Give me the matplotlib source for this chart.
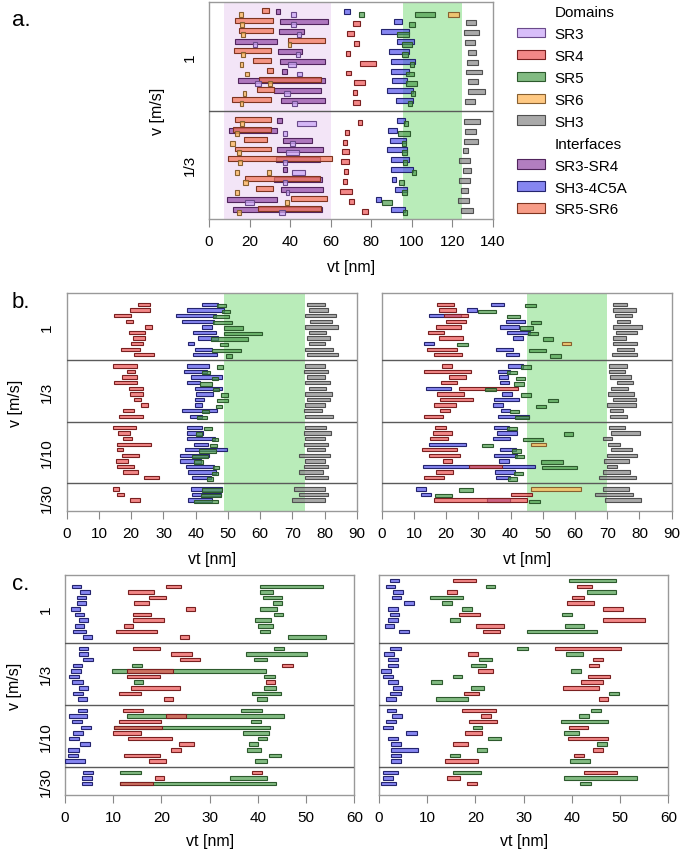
import matplotlib
matplotlib.use("Agg")
import matplotlib.pyplot as plt
from matplotlib.patches import Patch

plt.rcParams['font.family'] = ['Liberation Sans', 'DejaVu Sans']

# categories
DOMAINS = ["SR3", "SR4", "SR5", "SR6", "SH3"]
INTERFACES = ["SR3-SR4", "SH3-4C5A", "SR5-SR6"]

FACE = {
    "SR3": (0.80, 0.66, 0.97, 0.75),
    "SR4": (0.93, 0.33, 0.33, 0.70),
    "SR5": (0.30, 0.62, 0.30, 0.70),
    "SR6": (1.00, 0.72, 0.35, 0.75),
    "SH3": (0.55, 0.55, 0.55, 0.75),
    "SR3-SR4": (0.58, 0.30, 0.66, 0.72),
    "SH3-4C5A": (0.30, 0.30, 0.92, 0.68),
    "SR5-SR6": (0.96, 0.45, 0.33, 0.70),
}
EDGE = {
    "SR3": "#6a4a8a", "SR4": "#7a2020", "SR5": "#2d5a2d", "SR6": "#886030",
    "SH3": "#505050", "SR3-SR4": "#50245c", "SH3-4C5A": "#24246e", "SR5-SR6": "#7e3420",
}
ZORD = {"SH3": 3, "SR3-SR4": 3, "SR5-SR6": 4, "SH3-4C5A": 4,
        "SR4": 5, "SR5": 5, "SR3": 6, "SR6": 6}

# ---- panel a: rows of (category, start, end) per trial ----
a_v1 = [
    [("SR6", 15, 17), ("SR5-SR6", 26.3, 29.7), ("SR3-SR4", 33, 35), ("SR3", 40.4, 42.7), ("SH3-4C5A", 66.5, 69.6), ("SR5", 74, 76.7), ("SR5", 101.6, 111.7), ("SR6", 117.7, 123.3)],
    [("SR5-SR6", 12.8, 31.7), ("SR6", 15.4, 17.4), ("SR3-SR4", 35, 58.8), ("SR3", 40.5, 42.7), ("SR4", 71, 74.7), ("SH3-4C5A", 91.3, 95.2), ("SR5", 98.7, 101.6), ("SH3", 127, 132)],
    [("SR5-SR6", 14.8, 31.7), ("SR6", 15.9, 17.9), ("SR3-SR4", 34.5, 46.8), ("SR3", 43.5, 45.5), ("SR4", 68, 71.6), ("SH3-4C5A", 85, 98.7), ("SR5", 92.8, 98.7), ("SH3", 126, 133)],
    [("SR3-SR4", 12.6, 33.7), ("SR3", 21.5, 23.8), ("SR5-SR6", 38.9, 57.1), ("SR6", 38.8, 40.7), ("SR4", 71.8, 74.2), ("SH3-4C5A", 93, 101), ("SR5", 95.4, 100.3), ("SH3", 126.4, 131.5)],
    [("SR5-SR6", 12.2, 30.5), ("SR6", 15.9, 17.9), ("SR3-SR4", 34, 46), ("SR3", 43, 45), ("SR4", 67.6, 69.6), ("SH3-4C5A", 88.7, 98.5), ("SR5", 95, 98.4), ("SH3", 127.7, 132)],
    [("SR6", 15.1, 16.9), ("SR5-SR6", 21.8, 30.4), ("SR3-SR4", 35.1, 57.3), ("SR3", 39.2, 42.7), ("SR4", 74.5, 82.3), ("SH3-4C5A", 89.7, 101.6), ("SR5", 99, 101), ("SH3", 127.3, 132.7)],
    [("SR6", 17.9, 19.9), ("SR5-SR6", 28.7, 31.7), ("SR3-SR4", 36.1, 38.3), ("SR3", 43.5, 46.1), ("SR4", 67.8, 70.3), ("SH3-4C5A", 89.7, 98.7), ("SR5", 97, 101.2), ("SH3", 127, 134.5)],
    [("SR3-SR4", 14.3, 57.1), ("SR5-SR6", 24.5, 55.5), ("SR3", 22.8, 25.5), ("SR6", 29.2, 31.2), ("SR4", 71.8, 77.2), ("SH3-4C5A", 90.3, 97.7), ("SR5", 97, 102.6), ("SH3", 127.7, 132.7)],
    [("SR6", 16.6, 18.2), ("SR5-SR6", 23.5, 32), ("SR3-SR4", 32, 55.5), ("SR3", 36.8, 40), ("SR4", 71.3, 73.2), ("SH3-4C5A", 87.8, 100.7), ("SR5", 99.5, 101.5), ("SH3", 128, 136)],
    [("SR5-SR6", 11.3, 30.5), ("SR6", 15.1, 16.9), ("SR3-SR4", 35.6, 57.1), ("SR3", 41.2, 43.5), ("SR4", 71.3, 74.5), ("SH3-4C5A", 92.4, 100.7), ("SR5", 98.2, 100.3), ("SH3", 126.4, 131.2)],
]
a_v3 = [
    [("SR5-SR6", 12.8, 30.4), ("SR6", 15.1, 17.4), ("SR3-SR4", 33.7, 35.8), ("SR3", 43.2, 52.9), ("SR4", 73.6, 75.4), ("SH3-4C5A", 93, 96.7), ("SR5", 96, 98.4), ("SH3", 126, 133.8)],
    [("SR3-SR4", 9.7, 33.7), ("SR5-SR6", 12, 30.4), ("SR6", 13, 15), ("SR3", 36.6, 38.6), ("SR4", 67, 69.1), ("SH3-4C5A", 88.5, 93), ("SR5", 93.1, 99), ("SH3", 126.3, 132)],
    [("SR6", 10.5, 12.6), ("SR5-SR6", 17.2, 28.4), ("SR3-SR4", 36.5, 51), ("SR3", 40.2, 42.2), ("SR4", 66.2, 68.1), ("SH3-4C5A", 89.3, 97.4), ("SR5", 95.2, 97.4), ("SH3", 125.6, 132.8)],
    [("SR5-SR6", 12.6, 30.4), ("SR6", 14, 15.9), ("SR3-SR4", 33.7, 56.3), ("SR3", 37.9, 44.5), ("SR4", 65.7, 69.3), ("SH3-4C5A", 88, 97.7), ("SR5", 95.2, 97.7), ("SH3", 125.3, 127.9)],
    [("SR5-SR6", 9.4, 60.8), ("SR3-SR4", 33, 55), ("SR6", 14.4, 16.4), ("SR3", 36.3, 38.3), ("SR4", 65.2, 69.3), ("SH3-4C5A", 89.8, 98.5), ("SR5", 95.7, 97.7), ("SH3", 123.3, 128.6)],
    [("SR6", 13, 15), ("SR6", 28.6, 30.5), ("SR3-SR4", 36.3, 38.4), ("SR3", 41, 47.5), ("SR4", 66.7, 68.8), ("SH3-4C5A", 89.7, 100.7), ("SR5", 100.2, 102.3), ("SH3", 125.3, 129.4)],
    [("SR5-SR6", 17.9, 55), ("SR3-SR4", 32.2, 55.8), ("SR6", 17, 19), ("SR3", 36.6, 38.6), ("SR4", 66.2, 68.3), ("SH3-4C5A", 90.3, 92.4), ("SR5", 94, 96.2), ("SH3", 123.6, 128.6)],
    [("SR6", 12.6, 14.8), ("SR5-SR6", 23.3, 31.4), ("SR3-SR4", 35.5, 56.3), ("SR3", 37.8, 39.7), ("SR4", 64.7, 70.4), ("SH3-4C5A", 91.9, 97.7), ("SR5", 95, 97.7), ("SH3", 124.6, 127.9)],
    [("SR3-SR4", 9, 33.8), ("SR3", 18, 22.3), ("SR6", 37.4, 39.6), ("SR5-SR6", 40.7, 58.1), ("SR4", 69.3, 71.6), ("SH3-4C5A", 82.6, 85), ("SR5", 85.4, 90.3), ("SH3", 122.8, 128.2)],
    [("SR3-SR4", 12, 56), ("SR5-SR6", 24.3, 55.5), ("SR6", 14, 15.9), ("SR3", 34.6, 37.6), ("SR4", 75.7, 78.5), ("SH3-4C5A", 89.7, 96.6), ("SR5", 95.7, 97.7), ("SH3", 124.3, 130.2)],
]

# ---- panel b, left ----
bl_v1 = [
    [],
    [("SR4", 22.2, 25.8), ("SH3-4C5A", 41.8, 47), ("SR5", 46.7, 49.3), ("SH3", 74.5, 80)],
    [("SR4", 19.6, 25.8), ("SH3-4C5A", 37.2, 48.8), ("SR5", 48.3, 50.6), ("SH3", 75, 81)],
    [("SR4", 14.8, 19.8), ("SH3-4C5A", 33.8, 46.3), ("SR5", 45.5, 50.3), ("SH3", 74, 83.4)],
    [("SR4", 18.4, 20.5), ("SH3-4C5A", 35.8, 45.7), ("SR5", 45.5, 51.3), ("SH3", 75.5, 82.3)],
    [("SR4", 24.3, 26.3), ("SH3-4C5A", 41.8, 45.1), ("SR5", 48.8, 54.8), ("SH3", 74, 84)],
    [("SR4", 19.3, 24.3), ("SH3-4C5A", 39.3, 46.3), ("SR5", 48.8, 60.7), ("SH3", 75, 80.5)],
    [("SR4", 20.4, 24.3), ("SH3-4C5A", 40.8, 47), ("SR5", 44.7, 56.3), ("SH3", 74.5, 81.6)],
    [("SR4", 19.8, 23.8), ("SH3-4C5A", 37.5, 39.5), ("SR5", 47.6, 49.9), ("SH3", 75, 80)],
    [("SR4", 16.7, 22.7), ("SH3-4C5A", 39.8, 45.1), ("SR5", 44.9, 53.9), ("SH3", 74, 82.5)],
    [("SR4", 20.9, 27.2), ("SH3-4C5A", 39.3, 46.7), ("SR5", 49.3, 51.3), ("SH3", 74.5, 84)],
]
bl_v3 = [
    [("SR4", 14.5, 21.7), ("SH3-4C5A", 37.4, 44.1), ("SR5", 46.7, 48.6), ("SH3", 74, 80)],
    [("SR4", 18.6, 21.2), ("SH3-4C5A", 36.5, 43.4), ("SR5", 41.8, 44.4), ("SH3", 73.5, 81)],
    [("SR4", 17, 21.9), ("SH3-4C5A", 38.4, 48.2), ("SR5", 44.9, 47), ("SH3", 74.5, 80)],
    [("SR4", 14.7, 21.9), ("SH3-4C5A", 37.4, 41.3), ("SR5", 41.3, 44.9), ("SH3", 74, 81.5)],
    [("SR4", 19.4, 23.6), ("SH3-4C5A", 39.8, 48), ("SR5", 45.5, 47.3), ("SH3", 75, 80.5)],
    [("SR4", 19.6, 23.6), ("SH3-4C5A", 40.1, 45.5), ("SR5", 47.8, 49.9), ("SH3", 74, 82.3)],
    [("SR4", 21, 23), ("SH3-4C5A", 39.8, 42.7), ("SR5", 46.7, 49.9), ("SH3", 74.5, 81.6)],
    [("SR4", 23, 25.1), ("SH3-4C5A", 39.8, 42.1), ("SR5", 46.3, 48.2), ("SH3", 74, 80)],
    [("SR4", 17.6, 20.9), ("SH3-4C5A", 35.8, 46.7), ("SR5", 41.8, 44.2), ("SH3", 73.5, 79)],
    [("SR4", 16.3, 23.8), ("SH3-4C5A", 38.2, 41.8), ("SR5", 40.3, 43.4), ("SH3", 74, 82.5)],
]
bl_v10 = [
    [("SR4", 14.5, 21.5), ("SH3-4C5A", 37.4, 41.8), ("SR5", 42.7, 44.9), ("SH3", 74, 80.5)],
    [("SR4", 16, 19.6), ("SH3-4C5A", 37.2, 42.4), ("SR5", 40, 42), ("SH3", 73.5, 82)],
    [("SR4", 17.3, 20.1), ("SH3-4C5A", 37.2, 46), ("SR5", 44.9, 46.8), ("SH3", 74, 80)],
    [("SR4", 15.7, 26), ("SH3-4C5A", 39.6, 43.9), ("SR5", 44.4, 46.7), ("SH3", 73.5, 81)],
    [("SR4", 15.5, 17.6), ("SH3-4C5A", 36.7, 49.8), ("SR5", 41, 46.2), ("SH3", 74.5, 80)],
    [("SR4", 17, 22.5), ("SH3-4C5A", 35.1, 44.1), ("SR5", 39, 43.9), ("SH3", 72, 81.5)],
    [("SR4", 15.3, 19.1), ("SH3-4C5A", 35.1, 41.5), ("SR5", 39.6, 42.4), ("SH3", 74, 80)],
    [("SR4", 15.7, 21), ("SH3-4C5A", 37, 45.8), ("SR5", 45.5, 47.3), ("SH3", 73.5, 81)],
    [("SR4", 17.6, 22.2), ("SH3-4C5A", 37.5, 46.3), ("SR5", 45.1, 46.8), ("SH3", 72, 79.5)],
    [("SR4", 24.1, 28.7), ("SH3-4C5A", 38.9, 44.6), ("SR5", 43.6, 45.5), ("SH3", 74, 81)],
]
bl_v30 = [
    [("SR4", 14.3, 16.3), ("SH3-4C5A", 38.4, 48.3), ("SR5", 41.8, 48.3), ("SH3", 70.5, 80)],
    [("SR4", 15.7, 17.8), ("SH3-4C5A", 38.9, 47.7), ("SR5", 41.6, 47.7), ("SH3", 72, 81)],
    [("SR4", 19.6, 22.7), ("SH3-4C5A", 37.7, 45.2), ("SR5", 39.6, 46.8), ("SH3", 70, 80)],
]

# ---- panel b, right ----
br_v1 = [
    [],
    [("SR4", 17.3, 22.4), ("SH3-4C5A", 33.9, 38), ("SR5", 44.5, 47.8), ("SH3", 71.9, 76)],
    [("SR4", 17.9, 23), ("SH3-4C5A", 26.4, 29.5), ("SR5", 29.8, 35.5), ("SH3", 71.9, 78.9)],
    [("SH3-4C5A", 14.8, 24.6), ("SR4", 19.4, 26.9), ("SR5", 38.8, 42.9), ("SH3", 72.5, 77.8)],
    [("SR4", 19.9, 26.1), ("SH3-4C5A", 38.5, 44.5), ("SR5", 46.3, 49.4), ("SH3", 73.1, 77.2)],
    [("SR4", 16.9, 24.5), ("SH3-4C5A", 36.7, 42.6), ("SR5", 42.9, 47.1), ("SH3", 71.9, 80.9)],
    [("SR4", 14.5, 19.4), ("SH3-4C5A", 39, 46), ("SR5", 45.5, 48.4), ("SH3", 72.6, 79.3)],
    [("SR4", 17.9, 25.3), ("SH3-4C5A", 40.6, 43.7), ("SR5", 50.2, 53.3), ("SH3", 71.9, 75.8)],
    [("SH3-4C5A", 13.2, 16.3), ("SR5", 23.5, 26.9), ("SR6", 55.8, 58.9), ("SH3", 71.9, 79.3)],
    [("SR4", 14, 23.5), ("SH3-4C5A", 35.4, 40.8), ("SR5", 45.7, 50.9), ("SH3", 72.9, 78.3)],
    [("SR4", 16.3, 25), ("SH3-4C5A", 38.5, 42.5), ("SR5", 52.2, 55.5), ("SH3", 71.4, 79.3)],
]
br_v3 = [
    [("SR4", 18.6, 21.7), ("SH3-4C5A", 39.1, 43.7), ("SR5", 43.1, 46.3), ("SH3", 70.5, 76)],
    [("SR4", 13.1, 27.6), ("SH3-4C5A", 36.2, 39.8), ("SR5", 38.8, 41.9), ("SH3", 70.5, 75.5)],
    [("SR4", 20.9, 26.1), ("SH3-4C5A", 36.5, 39.1), ("SR5", 41.6, 44.5), ("SH3", 70.8, 77.4)],
    [("SR4", 18.4, 23.3), ("SH3-4C5A", 36.7, 39.6), ("SR5", 41.2, 44.2), ("SH3", 72.9, 77.9)],
    [("SH3-4C5A", 13.8, 21.4), ("SR4", 24.1, 42.4), ("SR5", 32.1, 35.4), ("SH3", 71.1, 76.5)],
    [("SR4", 17.1, 25.6), ("SH3-4C5A", 37.2, 40.3), ("SR5", 43.1, 46.2), ("SH3", 70.3, 78.3)],
    [("SR4", 18.1, 28.4), ("SH3-4C5A", 35, 42.6), ("SR5", 51.5, 54.6), ("SH3", 71.7, 78.9)],
    [("SR4", 16.3, 23.1), ("SH3-4C5A", 34.6, 37.5), ("SR5", 47.8, 50.9), ("SH3", 70, 78.8)],
    [("SR4", 18.1, 21.2), ("SH3-4C5A", 36.9, 39.8), ("SR5", 39.8, 42.7), ("SH3", 71, 75)],
    [("SR4", 13.1, 19.1), ("SH3-4C5A", 36.2, 45.7), ("SR5", 41.4, 45.7), ("SH3", 71, 76)],
]
br_v10 = [
    [("SR4", 16.5, 19.9), ("SH3-4C5A", 35, 39.6), ("SR5", 39, 41.9), ("SH3", 70.4, 75.6)],
    [("SR4", 16, 21.9), ("SH3-4C5A", 35.7, 41.9), ("SR5", 56.6, 59.5), ("SH3", 71.1, 80.1)],
    [("SR4", 15, 20.7), ("SH3-4C5A", 34.4, 39.8), ("SR5", 43.7, 50.2), ("SH3", 68.8, 71.6)],
    [("SH3-4C5A", 14.8, 26.1), ("SR5", 31, 34.6), ("SR6", 46.2, 50.9), ("SH3", 70.3, 73.9)],
    [("SR4", 12.6, 23.5), ("SH3-4C5A", 36.7, 41.7), ("SR5", 40.3, 43.2), ("SH3", 71.1, 77.6)],
    [("SR4", 14.7, 24.3), ("SH3-4C5A", 34.9, 42.1), ("SR5", 41.4, 44.3), ("SH3", 69.8, 79.3)],
    [("SR4", 18.9, 21.9), ("SH3-4C5A", 36.5, 39.6), ("SR5", 49.3, 56.2), ("SH3", 69.1, 76.7)],
    [("SH3-4C5A", 12.9, 47.6), ("SR4", 27.2, 37.4), ("SR5", 49.9, 60.5), ("SH3", 70, 73.1)],
    [("SR4", 16.9, 22), ("SH3-4C5A", 35.2, 41.4), ("SR5", 41.2, 44), ("SH3", 68.8, 77.2)],
    [("SR4", 13.1, 19.3), ("SH3-4C5A", 35.5, 39.8), ("SR5", 39.1, 42.1), ("SH3", 67.5, 78.9)],
]
br_v30 = [
    [("SH3-4C5A", 10.7, 13.8), ("SR5", 24.1, 28.4), ("SR6", 46.3, 62), ("SH3", 68.8, 76.8)],
    [("SH3-4C5A", 12.1, 15.2), ("SR5", 16.5, 21.7), ("SR4", 40.1, 46.5), ("SH3", 66.2, 78.1)],
    [("SR4", 16.3, 45.2), ("SH3-4C5A", 32.8, 39.8), ("SR5", 45.8, 49.1), ("SH3", 69.3, 80.4)],
]

# ---- panel c, left ----
cl_v1 = [
    [],
    [("SH3-4C5A", 1.4, 3.4), ("SR4", 20.9, 24), ("SR5", 40.5, 53.6)],
    [("SH3-4C5A", 3.2, 5.2), ("SR4", 13, 18.5), ("SR5", 40.5, 43.1)],
    [("SH3-4C5A", 2.5, 4.4), ("SR4", 17.5, 20.9), ("SR5", 41, 45.1)],
    [("SH3-4C5A", 2.5, 4.4), ("SR4", 14.4, 17.5), ("SR5", 43.1, 45.1)],
    [("SH3-4C5A", 1.2, 3.2), ("SR4", 25, 27), ("SR5", 40.5, 44)],
    [("SH3-4C5A", 2, 4), ("SR4", 14, 17.9), ("SR5", 43.3, 45.3)],
    [("SH3-4C5A", 2.8, 4.8), ("SR4", 14, 20.5), ("SR5", 39.5, 42.7)],
    [("SH3-4C5A", 2, 4), ("SR4", 12.2, 14.2), ("SR5", 40, 43.1)],
    [("SH3-4C5A", 1.6, 4.4), ("SR4", 10.5, 19), ("SR5", 40.5, 42.5)],
    [("SH3-4C5A", 3.8, 5.7), ("SR4", 23.8, 25.8), ("SR5", 46.2, 54.1)],
]
cl_v3 = [
    [("SH3-4C5A", 2.8, 4.7), ("SR4", 14.2, 19.8), ("SR5", 43.3, 45.5)],
    [("SH3-4C5A", 3, 4.8), ("SR4", 22, 26.4), ("SR5", 37.5, 50.2)],
    [("SH3-4C5A", 3.8, 5.9), ("SR4", 23.8, 28), ("SR5", 39.3, 41.9)],
    [("SH3-4C5A", 1.6, 3.6), ("SR5", 13.8, 15.9), ("SR4", 45, 47.3)],
    [("SH3-4C5A", 1.2, 3.3), ("SR5", 9.8, 41.7), ("SR4", 12.9, 22.3)],
    [("SH3-4C5A", 0.9, 2.9), ("SR4", 12.8, 19.7), ("SR5", 41.3, 43.6)],
    [("SH3-4C5A", 1.5, 3.8), ("SR5", 14.4, 16.2), ("SR4", 41.6, 43.5)],
    [("SH3-4C5A", 2.8, 4.8), ("SR4", 13.7, 23.8), ("SR5", 41.3, 43.7)],
    [("SH3-4C5A", 1.7, 3.8), ("SR4", 11.3, 15.7), ("SR5", 38.8, 44.9)],
    [("SH3-4C5A", 2.6, 4.5), ("SR4", 20.5, 22.5), ("SR5", 39.9, 41.8)],
]
cl_v10 = [
    [("SH3-4C5A", 2.6, 4.6), ("SR4", 12, 16.1), ("SR5", 36.6, 40.8)],
    [("SH3-4C5A", 0.9, 4.6), ("SR5", 12.8, 45.4), ("SR4", 20.9, 25)],
    [("SH3-4C5A", 1.5, 3.5), ("SR4", 11.3, 20), ("SR5", 38.5, 40.6)],
    [("SH3-4C5A", 3.3, 5.4), ("SR5", 10.2, 42.6), ("SR4", 10.2, 20.2)],
    [("SH3-4C5A", 1.7, 3.8), ("SR4", 10, 15.7), ("SR5", 37, 42.3)],
    [("SH3-4C5A", 0.8, 2.9), ("SR4", 13.1, 22.1), ("SR5", 40.1, 41.9)],
    [("SH3-4C5A", 3.1, 5.2), ("SR4", 23.7, 26.7), ("SR5", 38.2, 40.1)],
    [("SH3-4C5A", 0.7, 2.8), ("SR4", 21.9, 24), ("SR5", 37.8, 40.6)],
    [("SH3-4C5A", 0.6, 2.6), ("SR4", 12.3, 19.8), ("SR5", 42.4, 44.8)],
    [("SH3-4C5A", 0.1, 4.1), ("SR4", 17.5, 20.9), ("SR5", 39.5, 41.9)],
]
cl_v30 = [
    [("SH3-4C5A", 3.8, 5.9), ("SR5", 11.5, 15.7), ("SR4", 38.8, 40.9)],
    [("SH3-4C5A", 3.6, 5.7), ("SR4", 18.7, 20.6), ("SR5", 34.2, 41.8)],
    [("SH3-4C5A", 3.6, 5.7), ("SR5", 11.4, 43.7), ("SR4", 11.4, 18.2)],
]

# ---- panel c, right ----
cr_v1 = [
    [("SH3-4C5A", 2.2, 4.2), ("SR4", 15.4, 20.1), ("SR5", 39.4, 49.1)],
    [("SH3-4C5A", 1.5, 3.4), ("SR5", 22.1, 24.1), ("SR4", 41, 44.1)],
    [("SH3-4C5A", 3, 5), ("SR4", 14, 16.2), ("SR5", 43.1, 49.1)],
    [("SH3-4C5A", 2.7, 4.6), ("SR5", 10.5, 17.5), ("SR4", 40, 42.6)],
    [("SH3-4C5A", 5.2, 7.2), ("SR5", 13.1, 15.2), ("SR4", 39, 44.5)],
    [("SH3-4C5A", 1.9, 3.9), ("SR5", 17.2, 19.2), ("SR4", 46.5, 50.6)],
    [("SH3-4C5A", 2.2, 4.2), ("SR4", 16.6, 21), ("SR5", 37.9, 40)],
    [("SH3-4C5A", 1.9, 3.9), ("SR5", 14.8, 16.8), ("SR4", 46.5, 55.1)],
    [("SH3-4C5A", 1.3, 3.2), ("SR4", 20.1, 26), ("SR5", 38.5, 42.6)],
    [("SH3-4C5A", 4.2, 6.2), ("SR4", 21.5, 25), ("SR5", 30.6, 45.3)],
    [],
]
cr_v3 = [
    [("SH3-4C5A", 2.3, 4.5), ("SR5", 28.7, 30.8), ("SR4", 36.5, 50.2)],
    [("SH3-4C5A", 1.1, 3.2), ("SR4", 18.4, 20.5), ("SR5", 38.8, 42.4)],
    [("SH3-4C5A", 1.9, 3.9), ("SR5", 20.8, 23.4), ("SR4", 44.4, 46.5)],
    [("SH3-4C5A", 1.9, 4), ("SR5", 19.1, 22.1), ("SR4", 43.6, 45.7)],
    [("SH3-4C5A", 0.4, 2.5), ("SR4", 20.6, 23.6), ("SR5", 39.8, 41.8)],
    [("SH3-4C5A", 0.8, 2.8), ("SR5", 15.3, 17.3), ("SR4", 43.3, 47.9)],
    [("SH3-4C5A", 1.8, 3.9), ("SR5", 10.8, 13), ("SR4", 41.8, 46.5)],
    [("SH3-4C5A", 2.8, 4.8), ("SR5", 19.1, 21.8), ("SR4", 38.2, 45.7)],
    [("SH3-4C5A", 2.3, 4.5), ("SR4", 17.7, 20.8), ("SR5", 47.7, 49.8)],
    [("SH3-4C5A", 1.4, 3.5), ("SR5", 11.8, 18.5), ("SR4", 45.6, 47.5)],
]
cr_v10 = [
    [("SH3-4C5A", 1.6, 3.5), ("SR4", 17.3, 24.2), ("SR5", 44, 46)],
    [("SH3-4C5A", 2.6, 4.7), ("SR4", 21.1, 23.2), ("SR5", 41.5, 43.6)],
    [("SH3-4C5A", 1.4, 3.5), ("SR4", 18.7, 24.4), ("SR5", 37.7, 47.4)],
    [("SH3-4C5A", 0.8, 2.8), ("SR5", 19.4, 21.3), ("SR4", 39.5, 43.3)],
    [("SH3-4C5A", 5.7, 7.8), ("SR4", 17.8, 21.4), ("SR5", 38.4, 41.5)],
    [("SH3-4C5A", 1.9, 3.9), ("SR5", 22.7, 25.3), ("SR4", 39.3, 47.4)],
    [("SH3-4C5A", 2.5, 4.6), ("SR4", 15.3, 18.5), ("SR5", 45.3, 47.3)],
    [("SH3-4C5A", 2.5, 8), ("SR5", 20.4, 22.5), ("SR4", 44.4, 46.5)],
    [("SH3-4C5A", 2.4, 4.5), ("SR5", 14.7, 16.8), ("SR4", 40.5, 42.6)],
    [("SH3-4C5A", 2.4, 4.5), ("SR4", 13.7, 20.6), ("SR5", 39.7, 43.7)],
]
cr_v30 = [
    [("SH3-4C5A", 0.9, 4), ("SR5", 15.3, 21.1), ("SR4", 42.5, 49.4)],
    [("SH3-4C5A", 0.9, 3), ("SR4", 14.2, 16.9), ("SR5", 38.4, 53.6)],
    [("SH3-4C5A", 0.4, 3.5), ("SR4", 18.3, 20.4), ("SR5", 41.7, 43.9)],
]

SPEED_A = ["1", "1/3"]
SPEED_BC = ["1", "1/3", "1/10", "1/30"]

# shaded regions [nm]
A_SR34 = (7.5, 60)
A_SR56 = (95.6, 124.8)
BL_SR56 = (48.8, 73.9)
BR_SR56 = (45.1, 70.0)

W, H = 685, 854


def px_axes(l, t, r, b):
    return [l / W, 1 - b / H, (r - l) / W, (b - t) / H]


def draw_panel(ax, groups, slots, xmax, step, offs, h, ylabels=None):
    y0 = 0
    for g, rows in enumerate(groups):
        for j, row in enumerate(rows):
            y = y0 + 1 + j
            for cat, s, e in row:
                ax.barh(y + offs.get(cat, 0), e - s, left=s, height=h,
                        color=FACE[cat], edgecolor=EDGE[cat], linewidth=0.8,
                        zorder=ZORD[cat])
        y0 += slots[g]
        if g < len(groups) - 1:
            ax.axhline(y0, color='#5a5a5a', lw=1.0, zorder=7)
    ax.set_ylim(y0, 0)
    ax.set_xlim(0, xmax)
    ax.set_xticks(range(0, xmax + 1, step))
    centers = []
    c = 0
    for s in slots:
        centers.append(c + s / 2)
        c += s
    ax.set_yticks(centers)
    if ylabels:
        ax.set_yticklabels(ylabels, rotation=90, va='center', fontsize=11)
    else:
        ax.set_yticklabels([])
    ax.tick_params(axis='y', length=0, pad=9)
    ax.tick_params(axis='x', length=5.5, width=0.8, color='#888888', labelsize=11, pad=5)
    for sp in ax.spines.values():
        sp.set_color('#999999')
        sp.set_linewidth(1.0)
    ax.set_xlabel("vt [nm]", fontsize=11.5)


fig = plt.figure(figsize=(W / 100, H / 100), dpi=100)

off_a = {"SR3": 0.3, "SR6": 0.3, "SR5": 0.3, "SR4": 0.2, "SH3": 0.1, "SR5-SR6": -0.1}
off_b = {"SR5": 0.2}
off_c = {}

ax_a = fig.add_axes(px_axes(209, 3, 492.7, 220))
ax_a.axvspan(*A_SR34, color='#f3e5f7', zorder=0, lw=0)
ax_a.axvspan(*A_SR56, color='#b9ecb9', zorder=0, lw=0)
draw_panel(ax_a, [a_v1, a_v3], [11, 11], 140, 20, off_a, 0.5, SPEED_A)
ax_a.xaxis.set_label_coords(0.5, -40 / 217)
ax_a.set_ylabel("v [m/s]", fontsize=11.5)
ax_a.yaxis.set_label_coords(-44 / 283.7, 0.5)

slots_bc = [12, 11, 11, 5]
ax_bl = fig.add_axes(px_axes(66.7, 294.3, 357, 512.3))
ax_bl.axvspan(*BL_SR56, color='#b9ecb9', zorder=0, lw=0)
draw_panel(ax_bl, [bl_v1, bl_v3, bl_v10, bl_v30], slots_bc, 90, 10, off_b, 0.6, SPEED_BC)
ax_bl.xaxis.set_label_coords(0.5, -40 / 218)
ax_bl.set_ylabel("v [m/s]", fontsize=11.5)
ax_bl.yaxis.set_label_coords(-44 / 290.3, 0.5)

ax_br = fig.add_axes(px_axes(381.7, 294.3, 671.7, 512.3))
ax_br.axvspan(*BR_SR56, color='#b9ecb9', zorder=0, lw=0)
draw_panel(ax_br, [br_v1, br_v3, br_v10, br_v30], slots_bc, 90, 10, off_b, 0.6)
ax_br.xaxis.set_label_coords(0.5, -40 / 218)

ax_cl = fig.add_axes(px_axes(65, 576, 354.3, 796))
draw_panel(ax_cl, [cl_v1, cl_v3, cl_v10, cl_v30], slots_bc, 60, 10, off_c, 0.62, SPEED_BC)
ax_cl.xaxis.set_label_coords(0.5, -38 / 220)
ax_cl.set_ylabel("v [m/s]", fontsize=11.5)
ax_cl.yaxis.set_label_coords(-43 / 289.3, 0.5)

ax_cr = fig.add_axes(px_axes(379, 576, 668.3, 796))
draw_panel(ax_cr, [cr_v1, cr_v3, cr_v10, cr_v30], slots_bc, 60, 10, off_c, 0.62)
ax_cr.xaxis.set_label_coords(0.5, -38 / 220)

# panel letters
fig.text(12 / W, 1 - 20 / H, "a.", fontsize=16, va='center', ha='left')
fig.text(12 / W, 1 - 303 / H, "b.", fontsize=16, va='center', ha='left')
fig.text(12 / W, 1 - 585 / H, "c.", fontsize=16, va='center', ha='left')

# legend
blank = Patch(facecolor='none', edgecolor='none')
handles = [blank] + [Patch(facecolor=FACE[c], edgecolor=EDGE[c], lw=0.8) for c in DOMAINS] \
    + [blank] + [Patch(facecolor=FACE[c], edgecolor=EDGE[c], lw=0.8) for c in INTERFACES]
labels = ["Domains"] + DOMAINS + ["Interfaces"] + INTERFACES
fig.legend(handles, labels, loc='upper left', bbox_to_anchor=(517 / W, 1 - 6 / H),
           frameon=False, fontsize=11, handlelength=1.8, handleheight=0.6,
           handletextpad=0.65, labelspacing=0.52, borderpad=0, borderaxespad=0)

fig.savefig("out.png", dpi=100)
